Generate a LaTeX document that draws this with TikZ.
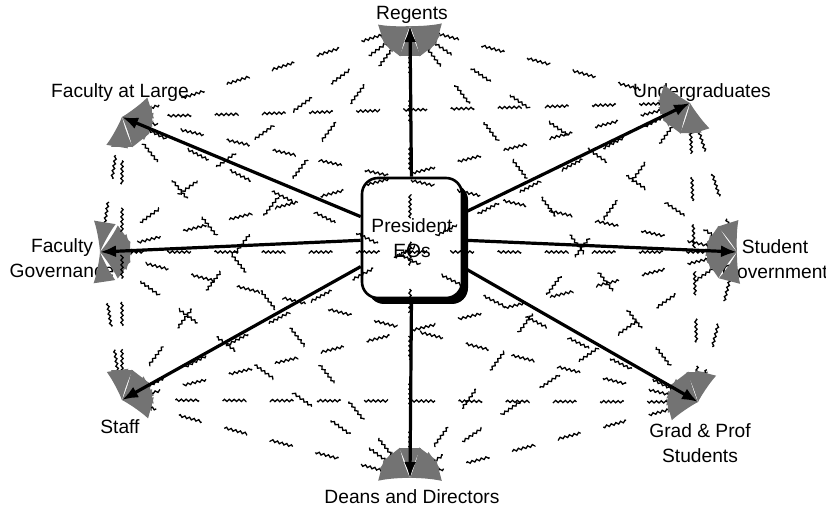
\documentclass[tikz,border=0pt]{standalone}
\usepackage{fontspec}
\setmainfont{Liberation Sans}
\usetikzlibrary{arrows.meta}
\usetikzlibrary{decorations.pathmorphing}
\usetikzlibrary{shadows}

\tikzset{
  link/.style={line width=.65pt, dash pattern=on 16pt off 16pt,
    decorate, decoration={snake, amplitude=.55pt, segment length=2.4pt, pre length=14pt, post length=14pt},
    {Latex[length=15pt,width=11pt,fill=black!55,color=black!55]}-{Latex[length=15pt,width=11pt,fill=black!55,color=black!55]}},
  spoke/.style={line width=1.6pt, -{Latex[length=8pt,width=6pt]}},
  lbl/.style={align=center, inner sep=0pt},
  pres/.style={draw, line width=1.3pt, rounded corners=8pt, fill=white, align=center,
    minimum width=50pt, minimum height=60pt,
    drop shadow={shadow xshift=3pt, shadow yshift=-3pt, fill=black, opacity=1}},
}

\begin{document}
\begin{tikzpicture}[x=0.5pt, y=-0.5pt, font=\fontsize{9.6}{12.5}\selectfont]
\useasboundingbox (0,0) rectangle (826,519);
% arrow tips of the eight groups
\coordinate (reg) at (410,26);
\coordinate (und) at (690,103);
\coordinate (stu) at (737,252);
\coordinate (grd) at (698,402);
\coordinate (dea) at (410,478);
\coordinate (sta) at (122,400);
\coordinate (fgv) at (100,252);
\coordinate (fal) at (122,117);

\node[lbl] (lreg) at (412,15) {Regents};
\node[lbl] (lund) at (702,93) {Undergraduates};
\node[lbl] (lstu) at (775,259) {Student\\Government};
\node[lbl] (lgrd) at (700,443) {Grad \& Prof\\Students};
\node[lbl] (ldea) at (412,497) {Deans and Directors};
\node[lbl] (lsta) at (120,427) {Staff};
\node[lbl] (lfgv) at (62,258) {Faculty\\Governance};
\node[lbl] (lfal) at (120,93) {Faculty at Large};

\node[pres] (pres) at (412,238) {President\\EOs};

% every group talks to every other group
\foreach \a/\rest in {reg/{und,stu,grd,dea,sta,fgv,fal}, und/{stu,grd,dea,sta,fgv,fal},
    stu/{grd,dea,sta,fgv,fal}, grd/{dea,sta,fgv,fal}, dea/{sta,fgv,fal}, sta/{fgv,fal}, fgv/{fal}}
  \foreach \b in \rest
    \draw[link] (\a) -- (\b);

\foreach \t in {reg,und,stu,grd,dea,sta,fgv,fal}
  \draw[spoke] (pres) -- (\t);
\end{tikzpicture}
\end{document}
